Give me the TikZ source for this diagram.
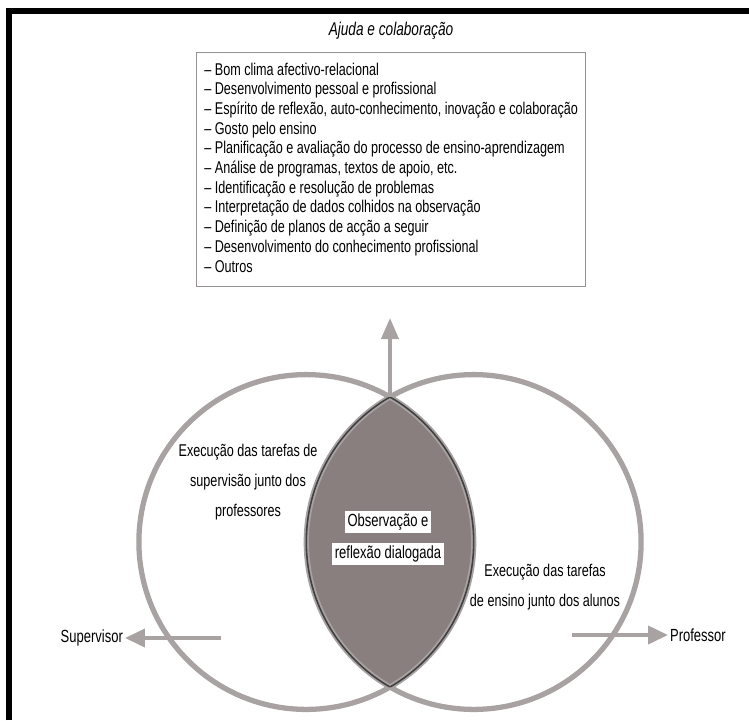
\documentclass[tikz,border=0pt]{standalone}
\usepackage{fontspec}
\setmainfont{Liberation Sans}[FakeStretch=0.74]
\usepackage{xcolor}
\usetikzlibrary{arrows.meta,positioning}

\definecolor{circgray}{RGB}{168,162,162}
\definecolor{lensgray}{RGB}{138,127,127}
\definecolor{boxgray}{RGB}{150,146,146}

\begin{document}
\begin{tikzpicture}[x=0.02cm, y=-0.02cm,
    circle line/.style={circgray, line width=3pt},
    lens line/.style={black!75, line width=0.9pt},
    arrow/.style={circgray, line width=2.2pt, -{Triangle[length=0.4cm, width=0.36cm]}},
    label/.style={font=\fontsize{10}{11}\selectfont, inner sep=1pt},
    circ text/.style={label, align=center, font=\fontsize{9.7}{17}\selectfont},
    lens text/.style={label, fill=white, inner sep=1.5pt}]

    \useasboundingbox (0,0) rectangle (749,720);
    % frame of the screenshot
    \draw[line width=3pt] (9,720) -- (9,11) -- (749,11);

    % list box
    \node[label, font=\itshape\fontsize{10.5}{12}\selectfont] (titulo) at (391,31) {Ajuda e colaboração};
    \node[draw=boxgray, line width=0.8pt, anchor=north west, minimum width=389*0.02cm, minimum height=234*0.02cm,
          inner sep=0pt, font=\fontsize{9.7}{11.2}\selectfont] (lista) at (196,52)
        {\begin{tabular}{@{}l@{}}
         -- Bom clima afectivo-relacional\\
         -- Desenvolvimento pessoal e profissional\\
         -- Espírito de reflexão, auto-conhecimento, inovação e colaboração\\
         -- Gosto pelo ensino\\
         -- Planificação e avaliação do processo de ensino-aprendizagem\\
         -- Análise de programas, textos de apoio, etc.\\
         -- Identificação e resolução de problemas\\
         -- Interpretação de dados colhidos na observação\\
         -- Definição de planos de acção a seguir\\
         -- Desenvolvimento do conhecimento profissional\\
         -- Outros
         \end{tabular}};

    % circles
    \coordinate (cl) at (306.3,542);
    \coordinate (cr) at (473.7,542);
    \coordinate (topx) at (390,397);
    \begin{scope}
        \clip (cl) circle[radius=167.4];
        \fill[lensgray] (cr) circle[radius=167.4];
    \end{scope}
    \draw[circle line] (cl) circle[radius=167.4];
    \draw[circle line] (cr) circle[radius=167.4];
    \begin{scope}
        \clip (cl) circle[radius=167.4];
        \draw[lens line] (cr) circle[radius=167.4];
    \end{scope}
    \begin{scope}
        \clip (cr) circle[radius=167.4];
        \draw[lens line] (cl) circle[radius=167.4];
    \end{scope}

    % texts
    \node[circ text] (supervisao) at (248,482) {Execução das tarefas de\\supervisão junto dos\\professores};
    \node[circ text] (ensino) at (545,587) {Execução das tarefas\\de ensino junto dos alunos};
    \node[lens text] (obs1) at (388,522) {Observação e};
    \node[lens text] (obs2) at (388,554) {reflexão dialogada};

    \node[label, anchor=east] (supervisor) at (125,638) {Supervisor};
    \node[label, anchor=west] (professor) at (668,635) {Professor};

    % arrows
    \coordinate (ajuda) at (390,318);
    \coordinate (supstart) at (221,638);
    \coordinate (profstart) at (572,635);
    \draw[arrow, -{Triangle[length=0.42cm, width=0.34cm]}] (topx) -- (ajuda);
    \draw[arrow] (supstart) -- (supervisor.east);
    \draw[arrow] (profstart) -- (professor.west);
\end{tikzpicture}
\end{document}
